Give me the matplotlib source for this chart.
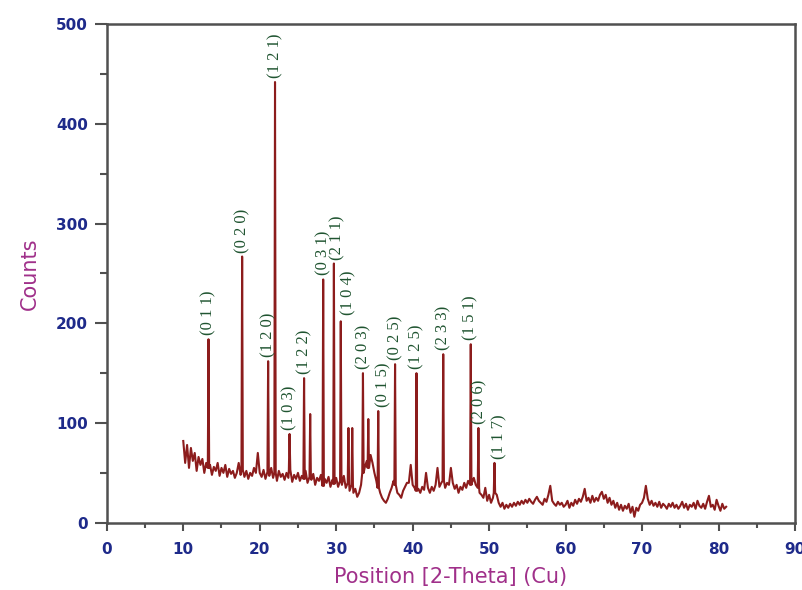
import numpy as np
import matplotlib
matplotlib.use('Agg')
import matplotlib.pyplot as plt
from matplotlib.ticker import MultipleLocator

# background trace, counts every 0.25 deg from 10.0 to 81.0
theta_start, theta_step = 10.0, 0.25
background = [
    82, 60, 78, 55, 75, 62, 70, 52, 66, 58, 64, 50, 60, 55, 58, 48, 56, 52, 60, 47,   # 10
    55, 50, 58, 46, 54, 49, 52, 45, 50, 60, 48, 53, 46, 52, 44, 50, 47, 55, 50, 70,   # 15
    50, 46, 53, 44, 51, 47, 55, 45, 50, 42, 52, 46, 49, 43, 50, 45, 53, 41, 48, 44,   # 20
    50, 42, 47, 44, 52, 40, 46, 43, 49, 38, 45, 42, 48, 37, 44, 40, 46, 36, 43, 39,   # 25
    45, 36, 42, 38, 47, 35, 40, 32, 38, 30, 34, 26, 30, 38, 50, 56, 62, 55, 68, 60,   # 30
    50, 42, 35, 30, 25, 22, 20, 24, 30, 35, 42, 38, 30, 28, 25, 32, 36, 40, 40, 58,   # 35
    38, 35, 32, 34, 30, 36, 33, 50, 35, 30, 36, 32, 38, 55, 36, 40, 42, 35, 40, 38,   # 40
    55, 40, 34, 38, 30, 36, 33, 40, 35, 42, 38, 40, 45, 38, 35, 30, 28, 25, 35, 22,   # 45
    28, 20, 25, 30, 28, 20, 16, 20, 14, 18, 15, 19, 16, 20, 17, 21, 18, 22, 19, 23,   # 50
    20, 24, 21, 19, 23, 26, 22, 20, 18, 24, 21, 28, 37, 22, 19, 17, 21, 18, 20, 16,   # 55
    18, 22, 15, 20, 17, 23, 19, 24, 21, 26, 34, 22, 25, 20, 27, 21, 25, 22, 28, 31,   # 60
    24, 28, 20, 25, 18, 22, 15, 20, 13, 18, 12, 17, 14, 19, 10, 16, 6, 15, 12, 18,    # 65
    20, 25, 37, 24, 18, 22, 17, 20, 16, 21, 15, 19, 17, 14, 19, 16, 20, 15, 18, 14,   # 70
    17, 21, 15, 19, 13, 18, 16, 20, 14, 22, 17, 15, 19, 14, 21, 27, 16, 18, 13, 23,   # 75
    17, 12, 19, 14, 16,                                                               # 80
]

# diffraction peaks: position (2-theta), peak counts, hkl label
peak_pos = [13.3, 17.7, 21.1, 22.0, 23.9, 25.8, 26.6, 28.3, 29.7, 30.6, 31.6, 32.1,
            33.5, 34.2, 35.5, 37.7, 40.5, 44.0, 47.6, 48.6, 50.7]
peak_counts = [184, 267, 162, 442, 89, 145, 109, 244, 260, 202, 95, 95,
               150, 104, 112, 159, 150, 169, 179, 95, 60]
peak_hkl = ['(0 1 1)', '(0 2 0)', '(1 2 0)', '(1 2 1)', '(1 0 3)', '(1 2 2)', None,
            '(0 3 1)', '(2 1 1)', '(1 0 4)', None, None, '(2 0 3)', None, '(0 1 5)',
            '(0 2 5)', '(1 2 5)', '(2 3 3)', '(1 5 1)', '(2 0 6)', '(1 1 7)']
# label anchor (x, bottom y) for each labelled peak
label_x = [13.3, 17.7, 21.1, 22.0, 23.9, 25.8, None, 28.3, 30.2, 31.6, None, None,
           33.5, None, 36.2, 37.7, 40.5, 44.0, 47.6, 48.7, 51.3]
label_y = [188, 271, 166, 446, 93, 149, None, 248, 264, 208, None, None,
           154, None, 116, 163, 154, 173, 183, 99, 64]

line_color = '#8c1c1c'
hkl_color = '#1f5430'
tick_color = '#1e2a8a'
label_color = '#a0308a'
axis_color = '#505050'

# build the trace: background samples plus a narrow spike for every peak
bx = theta_start + theta_step * np.arange(len(background))
by = np.array(background, dtype=float)
keep = np.ones(len(bx), dtype=bool)
for p in peak_pos:
    keep &= np.abs(bx - p) > 0.1
xs = list(bx[keep])
ys = list(by[keep])
for p, c in zip(peak_pos, peak_counts):
    foot = by[np.argmin(np.abs(bx - p))]
    xs += [p - 0.09, p, p + 0.09]
    ys += [foot, c, foot]
order = np.argsort(xs)
xs = np.array(xs)[order]
ys = np.array(ys)[order]

fig = plt.figure(figsize=(8.03, 5.90), dpi=100)
ax = fig.add_axes([0.133, 0.114, 0.857, 0.845])

ax.plot(xs, ys, color=line_color, linewidth=1.5, zorder=3)

for lbl, lx, ly in zip(peak_hkl, label_x, label_y):
    if lbl is None:
        continue
    ax.text(lx, ly, lbl, rotation=90, ha='center', va='bottom',
            family='Liberation Serif', fontsize=12, color=hkl_color, zorder=4)

ax.set_xlim(0, 90)
ax.set_ylim(0, 500)
ax.xaxis.set_major_locator(MultipleLocator(10))
ax.xaxis.set_minor_locator(MultipleLocator(5))
ax.yaxis.set_major_locator(MultipleLocator(100))
ax.yaxis.set_minor_locator(MultipleLocator(50))

for s in ax.spines.values():
    s.set_color(axis_color)
    s.set_linewidth(1.8)
ax.tick_params(which='both', direction='out', color=axis_color, width=1.5,
               top=False, right=False)
ax.tick_params(axis='x', which='major', length=6, pad=8)
ax.tick_params(axis='x', which='minor', length=3.5)
ax.tick_params(axis='y', which='major', length=8.5, pad=5)
ax.tick_params(axis='y', which='minor', length=5)
ax.tick_params(axis='both', labelsize=11, labelcolor=tick_color)
for t in ax.get_xticklabels() + ax.get_yticklabels():
    t.set_fontweight('bold')
    t.set_family('DejaVu Sans')

ax.set_xlabel('Position [2-Theta] (Cu)', family='DejaVu Sans', fontsize=15,
              color=label_color, labelpad=7)
ax.set_ylabel('Counts', family='DejaVu Sans', fontsize=15,
              color=label_color, labelpad=12)

fig.savefig('out.png', dpi=100)
